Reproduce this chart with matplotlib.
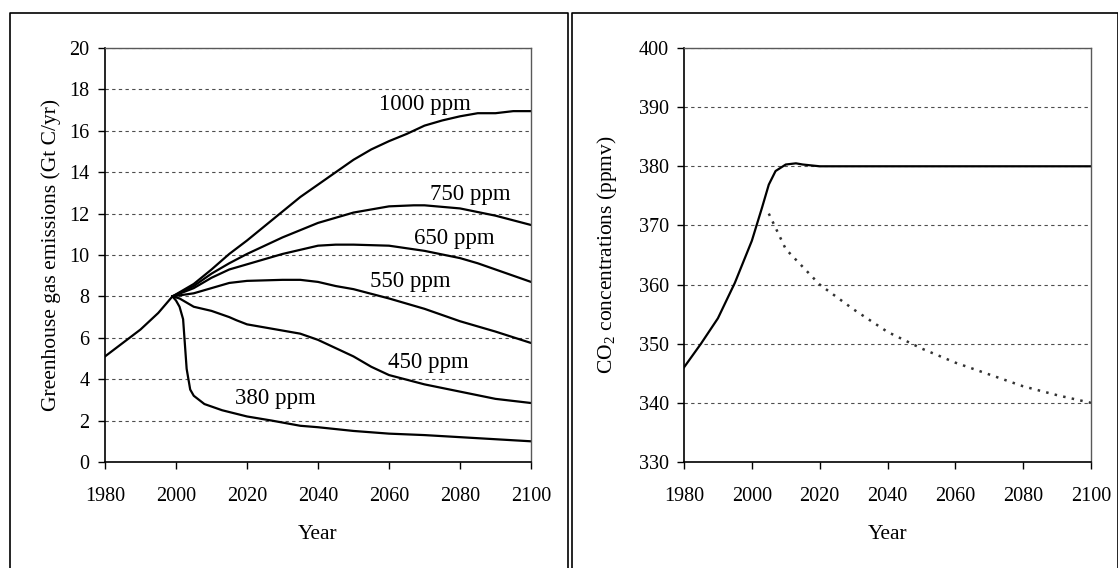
import numpy as np
import matplotlib.pyplot as plt
from matplotlib.lines import Line2D

plt.rcParams['font.family'] = ['Liberation Serif', 'DejaVu Serif']
plt.rcParams['mathtext.fontset'] = 'custom'
plt.rcParams['mathtext.rm'] = 'Liberation Serif'

# ---- left panel: emission pathways (Gt C/yr) ----
hist_years = [1980, 1985, 1990, 1995, 1999]
hist_vals = [5.1, 5.75, 6.4, 7.2, 8.0]

yrs_380 = [1999, 2000, 2001, 2002, 2003, 2004, 2005, 2008, 2013, 2020, 2027, 2035, 2040, 2050, 2060, 2070, 2080, 2090, 2100]
em_380 = [8.0, 7.8, 7.5, 6.9, 4.5, 3.5, 3.2, 2.8, 2.5, 2.2, 2.0, 1.75, 1.68, 1.5, 1.37, 1.3, 1.2, 1.1, 1.0]

yrs_450 = [1999, 2001, 2003, 2005, 2010, 2015, 2017, 2020, 2030, 2035, 2040, 2045, 2050, 2055, 2060, 2070, 2080, 2090, 2100]
em_450 = [8.0, 7.9, 7.7, 7.5, 7.3, 7.0, 6.85, 6.65, 6.35, 6.2, 5.9, 5.5, 5.1, 4.6, 4.2, 3.75, 3.4, 3.05, 2.85]

yrs_550 = [1999, 2005, 2010, 2015, 2020, 2030, 2035, 2040, 2045, 2050, 2060, 2070, 2080, 2090, 2100]
em_550 = [8.0, 8.15, 8.4, 8.65, 8.75, 8.8, 8.8, 8.7, 8.5, 8.35, 7.9, 7.4, 6.8, 6.3, 5.75]

yrs_650 = [1999, 2005, 2010, 2015, 2020, 2025, 2030, 2035, 2040, 2045, 2050, 2060, 2070, 2080, 2085, 2090, 2100]
em_650 = [8.0, 8.4, 8.9, 9.3, 9.55, 9.8, 10.05, 10.25, 10.45, 10.5, 10.5, 10.45, 10.2, 9.85, 9.6, 9.3, 8.7]

yrs_750 = [1999, 2005, 2010, 2015, 2020, 2025, 2030, 2035, 2040, 2045, 2050, 2060, 2067, 2070, 2080, 2090, 2100]
em_750 = [8.0, 8.5, 9.1, 9.6, 10.05, 10.45, 10.85, 11.2, 11.55, 11.8, 12.05, 12.35, 12.4, 12.4, 12.25, 11.9, 11.45]

yrs_1000 = [1999, 2005, 2010, 2015, 2020, 2025, 2030, 2035, 2040, 2045, 2050, 2055, 2060, 2065, 2070, 2075, 2080, 2085, 2090, 2095, 2100]
em_1000 = [8.0, 8.6, 9.3, 10.05, 10.7, 11.4, 12.1, 12.8, 13.4, 14.0, 14.6, 15.1, 15.5, 15.85, 16.25, 16.5, 16.7, 16.85, 16.85, 16.95, 16.95]

scenarios = [
    ('380 ppm', yrs_380, em_380, (2028, 3.05)),
    ('450 ppm', yrs_450, em_450, (2071, 4.8)),
    ('550 ppm', yrs_550, em_550, (2066, 8.7)),
    ('650 ppm', yrs_650, em_650, (2078.5, 10.8)),
    ('750 ppm', yrs_750, em_750, (2083, 12.9)),
    ('1000 ppm', yrs_1000, em_1000, (2070, 17.25)),
]

# ---- right panel: CO2 concentration (ppmv) ----
co2_years = [1980, 1985, 1990, 1995, 2000, 2003, 2005, 2007, 2010, 2013, 2015, 2020, 2040, 2060, 2080, 2100]
co2_vals = [346, 350, 354.3, 360.3, 367.4, 373, 376.9, 379.2, 380.3, 380.5, 380.3, 380.0, 380.0, 380.0, 380.0, 380.0]

co2_drop_years = [2005, 2010, 2015, 2020, 2030, 2040, 2050, 2060, 2070, 2080, 2090, 2100]
co2_drop_vals = [372, 366, 363, 360, 355.8, 352, 349.2, 346.8, 344.8, 342.8, 341.3, 340]

tick_fs = 14.5
lab_fs = 15.5

fig = plt.figure(figsize=(11.18, 5.68), dpi=100)

# panel frames (Excel-style chart borders)
for x0, x1 in [(10 / 1118, 567.5 / 1118), (572 / 1118, 1117.5 / 1118)]:
    ytop = 1 - 12.5 / 568
    fig.add_artist(Line2D([x0, x0, x1, x1], [0, ytop, ytop, 0], color='black', lw=1.2,
                          transform=fig.transFigure))


def style_axes(ax):
    for s in ['left', 'bottom']:
        ax.spines[s].set_color('black')
        ax.spines[s].set_linewidth(1.2)
    for s in ['top', 'right']:
        ax.spines[s].set_color('0.35')
        ax.spines[s].set_linewidth(1.0)
    ax.tick_params(direction='out', length=5, width=1, labelsize=tick_fs)
    ax.tick_params(axis='y', pad=6)
    ax.tick_params(axis='x', pad=13)
    ax.yaxis.grid(True, linestyle=(0, (3, 3)), color='0.3', linewidth=0.8)
    ax.set_axisbelow(True)
    ax.set_xlim(1980, 2100)
    ax.set_xticks(np.arange(1980, 2101, 20))
    ax.set_xlabel('Year', fontsize=lab_fs, labelpad=14)


ax1 = fig.add_axes([105 / 1118, 1 - 462 / 568, 426 / 1118, 414 / 568])
style_axes(ax1)
ax1.plot(hist_years, hist_vals, color='black', lw=1.6)
for name, yrs, vals, pos in scenarios:
    ax1.plot(yrs, vals, color='black', lw=1.6)
    ax1.text(pos[0], pos[1], name, fontsize=16.5, ha='center', va='center')
ax1.set_ylim(0, 20)
ax1.set_yticks(np.arange(0, 21, 2))
ax1.set_ylabel('Greenhouse gas emissions (Gt C/yr)', fontsize=lab_fs, labelpad=6)

ax2 = fig.add_axes([684 / 1118, 1 - 462 / 568, 407 / 1118, 414 / 568])
style_axes(ax2)
ax2.plot(co2_years, co2_vals, color='black', lw=1.6)
ax2.plot(co2_drop_years, co2_drop_vals, color='0.2', lw=1.8, linestyle=(0, (1, 2.5)))
ax2.set_ylim(330, 400)
ax2.set_yticks(np.arange(330, 401, 10))
ax2.set_ylabel('CO$_\\mathregular{2}$ concentrations (ppmv)', fontsize=lab_fs, labelpad=14)

fig.savefig('out.png', dpi=100)
